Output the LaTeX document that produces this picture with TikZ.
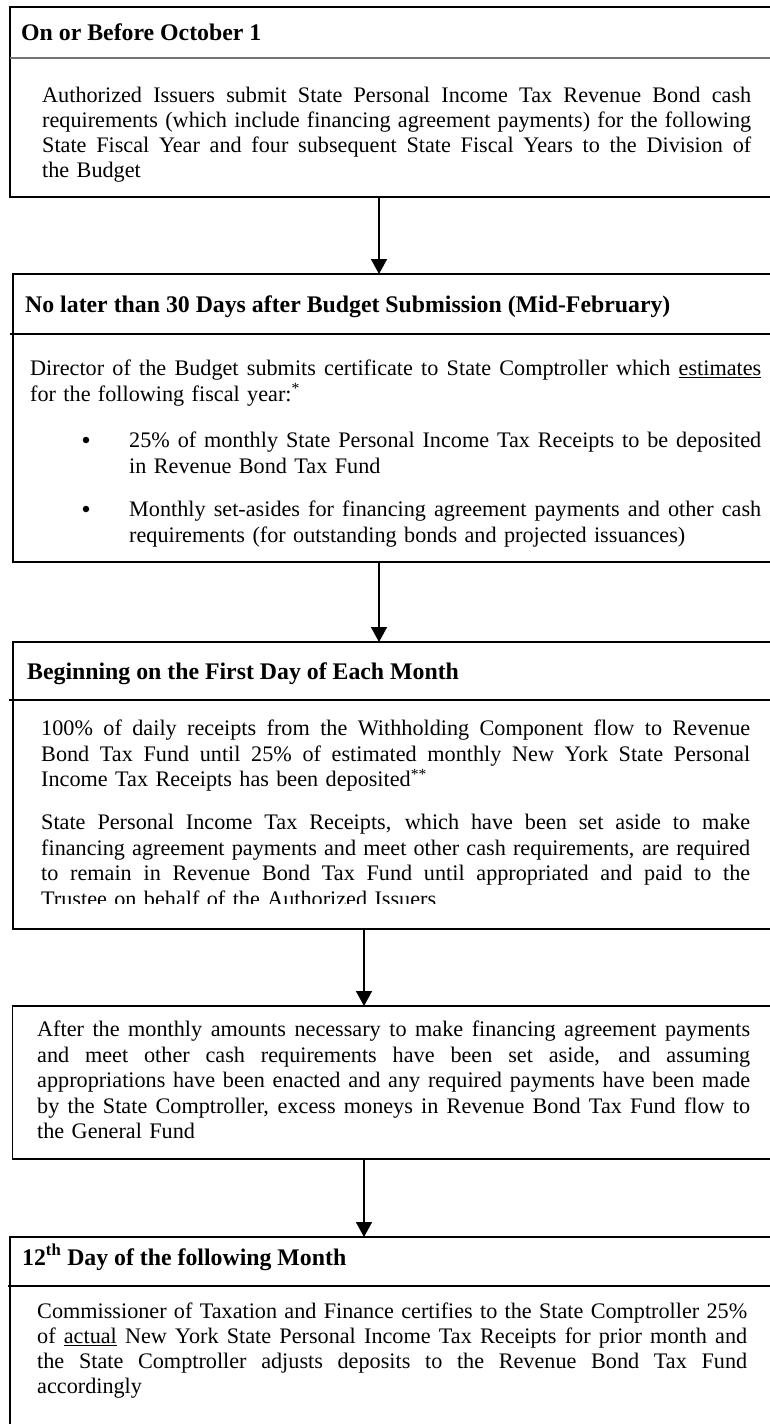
\documentclass[tikz,border=0pt]{standalone}
\usepackage{fontspec}
\setmainfont{Liberation Serif}
\usetikzlibrary{arrows.meta}
\newcommand\bodyfont{\fontsize{22.2pt}{25.5pt}\selectfont}
\newcommand\bodyfontb{\fontsize{22.2pt}{25pt}\selectfont}
\newcommand\headfont{\fontsize{23.8pt}{26pt}\selectfont\bfseries}
\newcommand\jl[2]{\leavevmode\hbox to #1{\spaceskip=0.25em plus 1em minus 0.1em\relax\xspaceskip=\spaceskip\relax #2}}
\newcommand\fs{\rule{0pt}{20pt}}
\begin{document}
\begin{tikzpicture}[x=1pt,y=-1pt,
  boxnode/.style={draw, line width=1.6pt, inner sep=0pt, outer sep=0pt, anchor=north west},
  headtext/.style={anchor=base west, inner sep=0pt, font=\headfont},
  bodytext/.style={anchor=north west, inner sep=0pt, font=\bodyfont, align=left},
  bulletnode/.style={circle, fill, inner sep=0pt, minimum size=6.5pt},
  divline/.style={line width=2.4pt},
  thindiv/.style={line width=1.3pt, black!55},
  arr/.style={line width=1.6pt, -{Triangle[width=16pt,length=15pt]}}]
\useasboundingbox (0,0) rectangle (770,1424);
\fill[white] (0,0) rectangle (770,1424);
\clip (0,0) rectangle (770,1424);

% boxes
\node[boxnode, minimum width=790pt, minimum height=190pt] (b1) at (10,7) {};
\node[boxnode, minimum width=787pt, minimum height=288pt] (b2) at (13,274) {};
\node[boxnode, minimum width=787pt, minimum height=287pt] (b3) at (13,642) {};
\node[boxnode, minimum width=787pt, minimum height=153pt] (b4) at (12.5,1006) {};
\node[boxnode, minimum width=790pt, minimum height=213pt] (b5) at (10,1237) {};

% header dividers
\draw[thindiv] (10,58) -- (800,58);
\draw[divline] (10,334) -- (800,334);
\draw[divline] (9,700) -- (800,700);
\draw[divline] (8,1286) -- (800,1286);

% box 1
\node[headtext] (h1) at (21,40) {On or Before October 1};
\node[bodytext, font=\bodyfontb, text width=709pt] (t1) at (42,82.5) {\fs\jl{709pt}{Authorized Issuers submit State Personal Income Tax Revenue Bond cash}\\
\jl{709pt}{requirements (which include financing agreement payments) for the following}\\
\jl{709pt}{State Fiscal Year and four subsequent State Fiscal Years to the Division of}\\
the Budget};

% box 2
\node[headtext] (h2) at (25,312) {No later than 30 Days after Budget Submission (Mid-February)};
\node[bodytext, text width=731pt] (t2) at (30,355.5) {\fs\jl{731pt}{Director of the Budget submits certificate to State Comptroller which \underline{estimates}}\\
for the following fiscal year:\textsuperscript{*}};
\node[bulletnode] (bu1) at (86,440) {};
\node[bodytext, text width=632pt] (t2a) at (129,427.5) {\fs\jl{632pt}{25\% of monthly State Personal Income Tax Receipts to be deposited}\\
in Revenue Bond Tax Fund};
\node[bulletnode] (bu2) at (86,509) {};
\node[bodytext, text width=632pt] (t2b) at (129,496.5) {\fs\jl{632pt}{Monthly set-asides for financing agreement payments and other cash}\\
requirements (for outstanding bonds and projected issuances)};

% box 3
\node[headtext] (h3) at (27,679) {Beginning on the First Day of Each Month};
\node[bodytext, text width=709pt] (t3a) at (41,715.5) {\fs\jl{709pt}{100\% of daily receipts from the Withholding Component flow to Revenue}\\
\jl{709pt}{Bond Tax Fund until 25\% of estimated monthly New York State Personal}\\
Income Tax Receipts has been deposited\textsuperscript{**}};
\begin{scope}
\clip (0,800) rectangle (770,903.5);
\node[bodytext, text width=709pt] (t3b) at (41,809.5) {\fs\jl{709pt}{State Personal Income Tax Receipts, which have been set aside to make}\\
\jl{709pt}{financing agreement payments and meet other cash requirements, are required}\\
\jl{709pt}{to remain in Revenue Bond Tax Fund until appropriated and paid to the}\\
Trustee on behalf of the Authorized Issuers};
\end{scope}

% box 4
\node[bodytext, text width=713pt] (t4) at (37,1016.5) {\fs\jl{713pt}{After the monthly amounts necessary to make financing agreement payments}\\
\jl{713pt}{and meet other cash requirements have been set aside, and assuming}\\
\jl{713pt}{appropriations have been enacted and any required payments have been made}\\
\jl{713pt}{by the State Comptroller, excess moneys in Revenue Bond Tax Fund flow to}\\
the General Fund};

% box 5
\node[headtext] (h5) at (22,1265) {12\textsuperscript{th} Day of the following Month};
\node[bodytext, font=\bodyfontb, text width=710pt] (t5) at (37,1298.5) {\fs\jl{710pt}{Commissioner of Taxation and Finance certifies to the State Comptroller 25\%}\\
\jl{710pt}{of \underline{actual} New York State Personal Income Tax Receipts for prior month and}\\
\jl{710pt}{the State Comptroller adjusts deposits to the Revenue Bond Tax Fund}\\
accordingly};

% connectors
\coordinate (ax1) at (379,0);
\coordinate (ax2) at (364,0);
\draw[arr] (b1.south -| ax1) -- (b2.north -| ax1);
\draw[arr] (b2.south -| ax1) -- (b3.north -| ax1);
\draw[arr] (b3.south -| ax2) -- (b4.north -| ax2);
\draw[arr] (b4.south -| ax2) -- (b5.north -| ax2);
\end{tikzpicture}
\end{document}
